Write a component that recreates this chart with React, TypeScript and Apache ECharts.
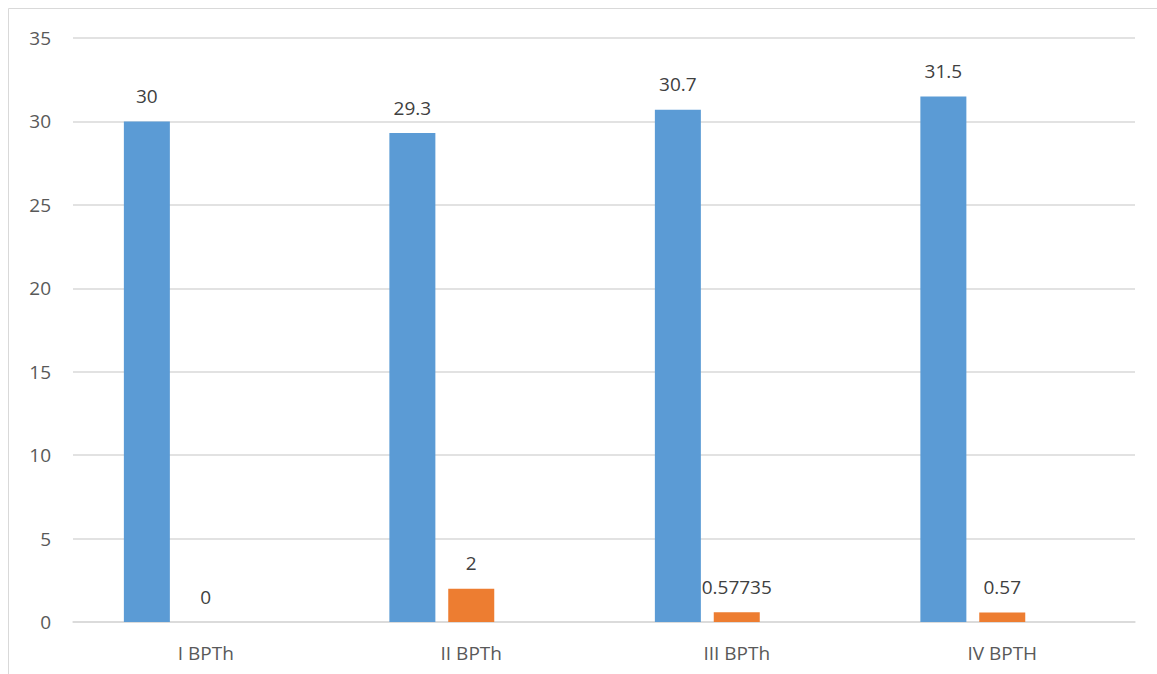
import React, { useEffect, useRef } from "react";
import * as echarts from "echarts";

const categories = ["I BPTh", "II BPTh", "III BPTh", "IV BPTH"];
const blueValues = [30, 29.3, 30.7, 31.5];
const orangeValues = [0, 2, 0.57735, 0.57];
const emptyValues: (number | null)[] = [null, null, null, null];
const yTicks = { min: 0, max: 35, interval: 5 };

export default function App() {
  const ref = useRef<HTMLDivElement>(null);
  useEffect(() => {
    if (!ref.current) return;
    const chart = echarts.init(ref.current, undefined, { renderer: "svg" });
    const font = "'Open Sans', 'Noto Sans', sans-serif";
    const labelStyle = {
      show: true,
      position: "top" as const,
      distance: 16,
      color: "#404040",
      fontSize: 19,
      fontFamily: font,
    };
    chart.setOption({
      animation: false,
      backgroundColor: "#ffffff",
      grid: { left: 73, right: 22, top: 38, bottom: 52, containLabel: false },
      graphic: [
        {
          type: "rect",
          shape: { x: 8.5, y: 8.5, width: 1200, height: 700 },
          style: { fill: "none", stroke: "#d9d9d9", lineWidth: 1 },
          silent: true,
        },
      ],
      xAxis: {
        type: "category",
        data: categories,
        axisLine: { show: true, lineStyle: { color: "#d9d9d9", width: 1.5 } },
        axisTick: { show: false },
        axisLabel: { color: "#595959", fontSize: 19, fontFamily: font, margin: 21 },
      },
      yAxis: {
        type: "value",
        min: yTicks.min,
        max: yTicks.max,
        interval: yTicks.interval,
        axisLine: { show: false },
        axisTick: { show: false },
        splitLine: { lineStyle: { color: "#d9d9d9", width: 1.5 } },
        axisLabel: { color: "#595959", fontSize: 19, fontFamily: font, margin: 22 },
      },
      series: [
        {
          type: "bar",
          data: blueValues,
          barWidth: 46,
          barGap: "28%",
          itemStyle: { color: "#5b9bd5" },
          label: { ...labelStyle },
        },
        {
          type: "bar",
          data: orangeValues,
          barWidth: 46,
          barGap: "28%",
          itemStyle: { color: "#ed7d31" },
          label: { ...labelStyle },
        },
        {
          type: "bar",
          data: emptyValues,
          barWidth: 46,
          barGap: "28%",
          itemStyle: { color: "#a5a5a5" },
        },
      ],
    });
    return () => chart.dispose();
  }, []);
  return (
    <div
      ref={ref}
      style={{ position: "fixed", left: 0, top: 0, width: 1157, height: 674 }}
    />
  );
}
